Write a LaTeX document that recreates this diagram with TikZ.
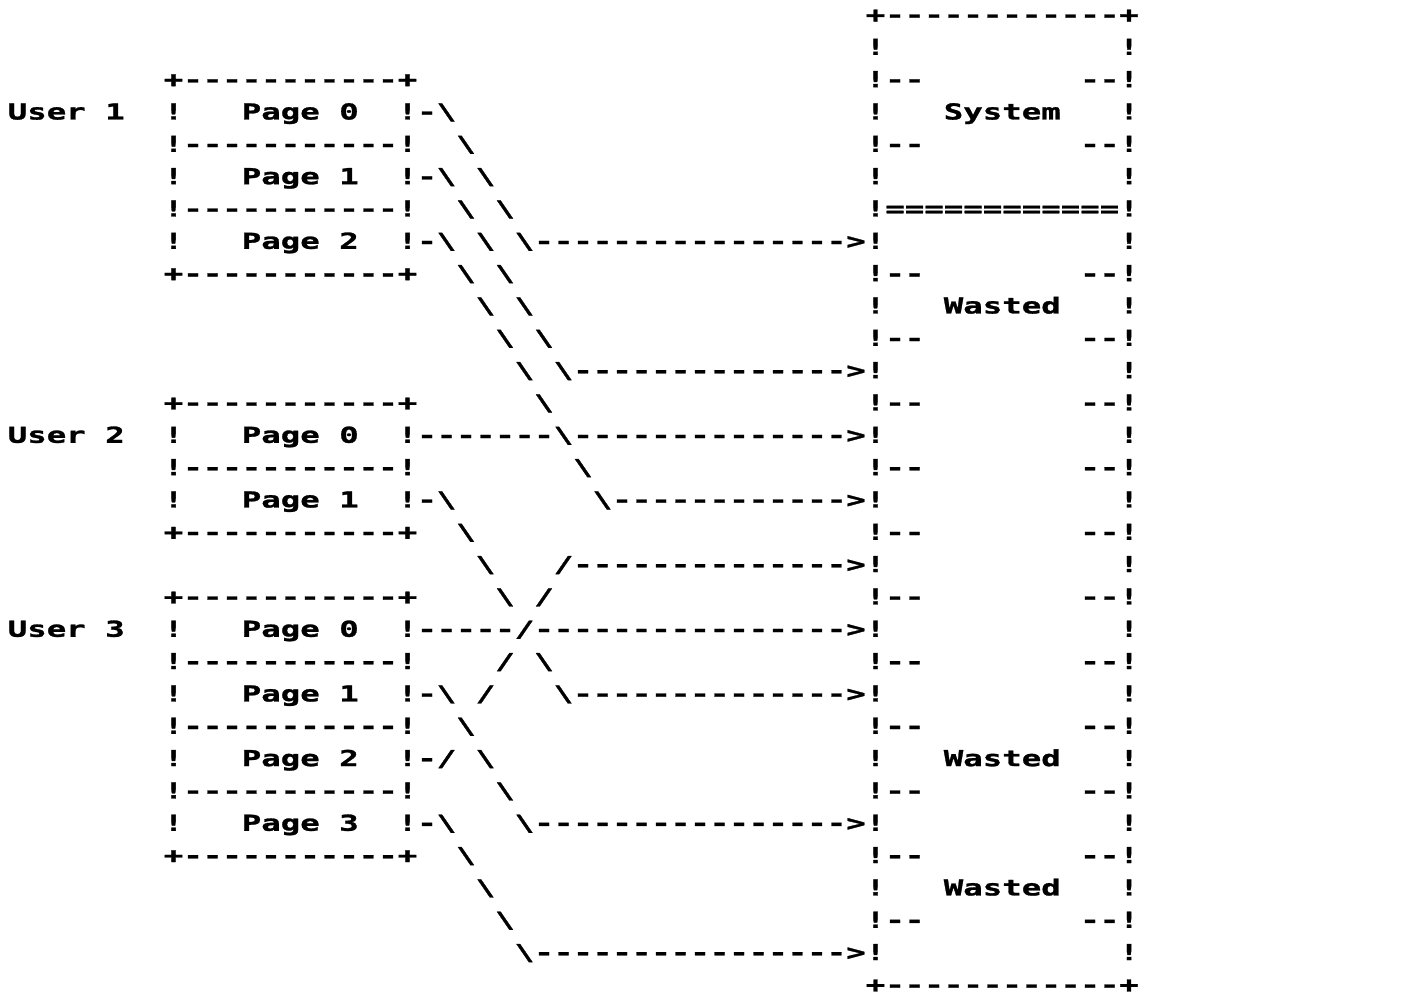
\documentclass[tikz,border=0pt]{standalone}
\usepackage{fontspec}
\setmonofont{DejaVu Sans Mono}[FakeStretch=1.4723,BoldFeatures={FakeBold=1.2}]
\newcommand\ascat[4]{\node[asc] (#1) at ({7.75+19.5*(#2)},{22.5+32.33*(#3)}) {#4};}
\newcommand\BSL{\textbackslash}
\begin{document}
\begin{tikzpicture}[x=1pt,y=-1pt,
  asc/.style={inner sep=0pt, outer sep=0pt, anchor=base west,
    font=\ttfamily\bfseries\fontsize{22}{22}\selectfont, text=black}]
\useasboundingbox[fill=white] (0,0) rectangle (1423,995);

% ---------- user labels ----------
\ascat{user1}{0}{3}{User 1}
\ascat{user2}{0}{13}{User 2}
\ascat{user3}{0}{19}{User 3}

% ---------- user 1 box ----------
\ascat{b1t}{8}{2}{+-----------+}
\ascat{b1l3}{8}{3}{!}  \ascat{u1p0}{12}{3}{Page 0} \ascat{b1r3}{20}{3}{!}
\ascat{b1s4}{8}{4}{!-----------!}
\ascat{b1l5}{8}{5}{!}  \ascat{u1p1}{12}{5}{Page 1} \ascat{b1r5}{20}{5}{!}
\ascat{b1s6}{8}{6}{!-----------!}
\ascat{b1l7}{8}{7}{!}  \ascat{u1p2}{12}{7}{Page 2} \ascat{b1r7}{20}{7}{!}
\ascat{b1b}{8}{8}{+-----------+}

% ---------- user 2 box ----------
\ascat{b2t}{8}{12}{+-----------+}
\ascat{b2l13}{8}{13}{!} \ascat{u2p0}{12}{13}{Page 0} \ascat{b2r13}{20}{13}{!}
\ascat{b2s14}{8}{14}{!-----------!}
\ascat{b2l15}{8}{15}{!} \ascat{u2p1}{12}{15}{Page 1} \ascat{b2r15}{20}{15}{!}
\ascat{b2b}{8}{16}{+-----------+}

% ---------- user 3 box ----------
\ascat{b3t}{8}{18}{+-----------+}
\ascat{b3l19}{8}{19}{!} \ascat{u3p0}{12}{19}{Page 0} \ascat{b3r19}{20}{19}{!}
\ascat{b3s20}{8}{20}{!-----------!}
\ascat{b3l21}{8}{21}{!} \ascat{u3p1}{12}{21}{Page 1} \ascat{b3r21}{20}{21}{!}
\ascat{b3s22}{8}{22}{!-----------!}
\ascat{b3l23}{8}{23}{!} \ascat{u3p2}{12}{23}{Page 2} \ascat{b3r23}{20}{23}{!}
\ascat{b3s24}{8}{24}{!-----------!}
\ascat{b3l25}{8}{25}{!} \ascat{u3p3}{12}{25}{Page 3} \ascat{b3r25}{20}{25}{!}
\ascat{b3b}{8}{26}{+-----------+}

% ---------- memory column ----------
\ascat{mt}{44}{0}{+------------+}
\foreach \r in {1,5,7,11,13,15,17,19,21,25,29}{
  \ascat{ml\r}{44}{\r}{!} \ascat{mr\r}{57}{\r}{!}
}
\foreach \r in {2,4,8,10,12,14,16,18,20,22,24,26,28}{
  \ascat{mla\r}{44}{\r}{!--} \ascat{mra\r}{55}{\r}{--!}
}
\foreach \r in {3,9,23,27}{
  \ascat{ml\r}{44}{\r}{!} \ascat{mr\r}{57}{\r}{!}
}
\ascat{msys}{48}{3}{System}
\ascat{mw1}{48}{9}{Wasted}
\ascat{mw2}{48}{23}{Wasted}
\ascat{mw3}{48}{27}{Wasted}
\ascat{msep}{44}{6}{!============!}
\ascat{mb}{44}{30}{+------------+}

% ---------- connectors ----------
\ascat{c3}{21}{3}{-\BSL}
\ascat{c4}{23}{4}{\BSL}
\ascat{c5a}{21}{5}{-\BSL} \ascat{c5b}{24}{5}{\BSL}
\ascat{c6a}{23}{6}{\BSL}  \ascat{c6b}{25}{6}{\BSL}
\ascat{c7a}{21}{7}{-\BSL} \ascat{c7b}{24}{7}{\BSL}
\ascat{c7c}{26}{7}{\BSL---------------->}
\ascat{c8a}{23}{8}{\BSL}  \ascat{c8b}{25}{8}{\BSL}
\ascat{c9a}{24}{9}{\BSL}  \ascat{c9b}{26}{9}{\BSL}
\ascat{c10a}{25}{10}{\BSL} \ascat{c10b}{27}{10}{\BSL}
\ascat{c11a}{26}{11}{\BSL}
\ascat{c11b}{28}{11}{\BSL-------------->}
\ascat{c12}{27}{12}{\BSL}
\ascat{c13}{21}{13}{-------\BSL-------------->}
\ascat{c14}{29}{14}{\BSL}
\ascat{c15a}{21}{15}{-\BSL}
\ascat{c15b}{30}{15}{\BSL------------>}
\ascat{c16}{23}{16}{\BSL}
\ascat{c17a}{24}{17}{\BSL}
\ascat{c17b}{28}{17}{/-------------->}
\ascat{c18a}{25}{18}{\BSL} \ascat{c18b}{27}{18}{/}
\ascat{c19}{21}{19}{-----/---------------->}
\ascat{c20a}{25}{20}{/} \ascat{c20b}{27}{20}{\BSL}
\ascat{c21a}{21}{21}{-\BSL} \ascat{c21b}{24}{21}{/}
\ascat{c21c}{28}{21}{\BSL-------------->}
\ascat{c22}{23}{22}{\BSL}
\ascat{c23a}{21}{23}{-/} \ascat{c23b}{24}{23}{\BSL}
\ascat{c24}{25}{24}{\BSL}
\ascat{c25a}{21}{25}{-\BSL}
\ascat{c25b}{26}{25}{\BSL---------------->}
\ascat{c26}{23}{26}{\BSL}
\ascat{c27}{24}{27}{\BSL}
\ascat{c28}{25}{28}{\BSL}
\ascat{c29}{26}{29}{\BSL---------------->}
\end{tikzpicture}
\end{document}
